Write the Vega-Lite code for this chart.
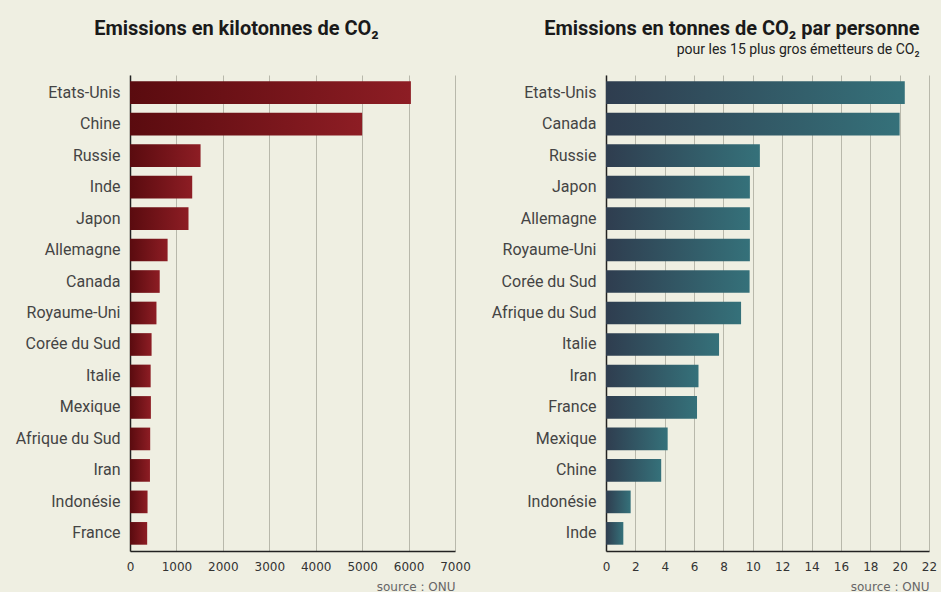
{
  "$schema": "https://vega.github.io/schema/vega-lite/v6.json",
  "background": "#efefe2",
  "padding": {"left": 15, "top": 19, "right": 4, "bottom": 0},
  "spacing": 20,
  "datasets": {
    "kt": [
      {"pays": "Etats-Unis", "valeur": 6050},
      {"pays": "Chine", "valeur": 5000},
      {"pays": "Russie", "valeur": 1520},
      {"pays": "Inde", "valeur": 1340},
      {"pays": "Japon", "valeur": 1260},
      {"pays": "Allemagne", "valeur": 810},
      {"pays": "Canada", "valeur": 640},
      {"pays": "Royaume-Uni", "valeur": 570},
      {"pays": "Corée du Sud", "valeur": 465},
      {"pays": "Italie", "valeur": 445},
      {"pays": "Mexique", "valeur": 450},
      {"pays": "Afrique du Sud", "valeur": 435},
      {"pays": "Iran", "valeur": 430},
      {"pays": "Indonésie", "valeur": 378},
      {"pays": "France", "valeur": 370}
    ],
    "tpp": [
      {"pays": "Etats-Unis", "valeur": 20.35},
      {"pays": "Canada", "valeur": 20.0},
      {"pays": "Russie", "valeur": 10.48},
      {"pays": "Japon", "valeur": 9.8},
      {"pays": "Allemagne", "valeur": 9.8},
      {"pays": "Royaume-Uni", "valeur": 9.8},
      {"pays": "Corée du Sud", "valeur": 9.78},
      {"pays": "Afrique du Sud", "valeur": 9.2},
      {"pays": "Italie", "valeur": 7.7},
      {"pays": "Iran", "valeur": 6.3},
      {"pays": "France", "valeur": 6.2},
      {"pays": "Mexique", "valeur": 4.2},
      {"pays": "Chine", "valeur": 3.76},
      {"pays": "Indonésie", "valeur": 1.68},
      {"pays": "Inde", "valeur": 1.18}
    ]
  },
  "config": {
    "view": {"stroke": null},
    "title": {"font": "Roboto", "fontSize": 20, "fontWeight": "bold", "color": "#1a1a1a", "subtitleFont": "Roboto", "subtitleFontSize": 14, "subtitleColor": "#222", "subtitlePadding": 4, "offset": 18},
    "axisY": {"grid": false, "domain": true, "domainColor": "#222", "domainWidth": 1.5, "ticks": false, "labelPadding": 10, "labelFont": "Roboto", "labelFontSize": 16, "labelColor": "#444", "title": null},
    "axisX": {"grid": true, "gridColor": "#b8b8ab", "gridWidth": 1, "domain": true, "domainColor": "#222", "domainWidth": 1.5, "ticks": false, "labelPadding": 10, "labelFlush": false, "labelFont": "DejaVu Sans", "labelFontSize": 12, "labelColor": "#333", "titleFont": "DejaVu Sans", "titleFontSize": 12, "titleFontWeight": "normal", "titleColor": "#666", "titleAnchor": "end", "titlePadding": 9}
  },
  "hconcat": [
    {
      "width": 325,
      "height": 476,
      "title": {"text": "Emissions en kilotonnes de CO₂", "subtitle": " ", "anchor": "middle", "dx": -56},
      "data": {"name": "kt"},
      "mark": {"type": "bar", "color": {"gradient": "linear", "x1": 0, "x2": 1, "y1": 0, "y2": 0, "stops": [{"offset": 0, "color": "#5a0b0f"}, {"offset": 1, "color": "#8d1d24"}]}},
      "encoding": {
        "y": {"field": "pays", "type": "nominal", "sort": null, "scale": {"paddingInner": 0.28, "paddingOuter": 0.2}},
        "x": {"field": "valeur", "type": "quantitative", "scale": {"domain": [0, 7000], "nice": false}, "axis": {"values": [0, 1000, 2000, 3000, 4000, 5000, 6000, 7000], "format": "d", "title": "source : ONU"}}
      }
    },
    {
      "width": 323,
      "height": 476,
      "title": {"text": "Emissions en tonnes de CO₂ par personne", "subtitle": "pour les 15 plus gros émetteurs de CO₂", "anchor": "end", "dx": -17},
      "data": {"name": "tpp"},
      "mark": {"type": "bar", "color": {"gradient": "linear", "x1": 0, "x2": 1, "y1": 0, "y2": 0, "stops": [{"offset": 0, "color": "#2f3d4f"}, {"offset": 1, "color": "#35717a"}]}},
      "encoding": {
        "y": {"field": "pays", "type": "nominal", "sort": null, "scale": {"paddingInner": 0.28, "paddingOuter": 0.2}},
        "x": {"field": "valeur", "type": "quantitative", "scale": {"domain": [0, 22], "nice": false}, "axis": {"values": [0, 2, 4, 6, 8, 10, 12, 14, 16, 18, 20, 22], "title": "source : ONU"}}
      }
    }
  ]
}
